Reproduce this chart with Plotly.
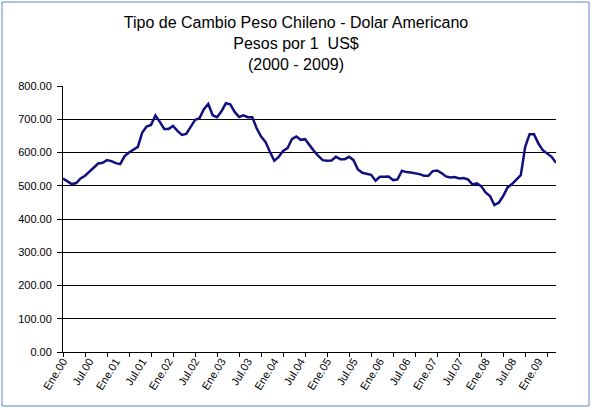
import plotly.graph_objects as go

# Monthly average exchange rate, Jan 2000 .. May 2009 (pesos per 1 US$)
months_es = ["Ene", "Feb", "Mar", "Abr", "May", "Jun", "Jul", "Ago", "Sep", "Oct", "Nov", "Dic"]
years = list(range(2000, 2010))

rate_2000 = [522, 514, 505, 508, 522, 530, 543, 553, 567, 569, 577, 574]
rate_2001 = [568, 565, 589, 600, 608, 617, 660, 678, 683, 711, 692, 671]
rate_2002 = [671, 680, 665, 653, 656, 678, 698, 703, 730, 746, 712, 706]
rate_2003 = [724, 748, 745, 722, 707, 712, 706, 706, 673, 648, 632, 602]
rate_2004 = [575, 587, 605, 613, 640, 648, 638, 640, 621, 605, 590, 577]
rate_2005 = [575, 576, 587, 580, 580, 587, 577, 549, 539, 535, 533, 515]
rate_2006 = [527, 527, 528, 517, 519, 545, 541, 540, 538, 535, 530, 530]
rate_2007 = [544, 546, 538, 528, 525, 526, 522, 523, 519, 504, 507, 499]
rate_2008 = [480, 469, 442, 449, 469, 495, 505, 518, 532, 617, 655, 655]
rate_2009 = [627, 607, 597, 587, 569]

rates = rate_2000 + rate_2001 + rate_2002 + rate_2003 + rate_2004 + rate_2005 + rate_2006 + rate_2007 + rate_2008 + rate_2009

labels = []
for y in years:
    for m in months_es:
        labels.append(f"{m}.{str(y)[2:]}")
labels = labels[:len(rates)]
idx = list(range(len(rates)))

# Axis labels every 6 months, tick marks every 5 categories
label_step = 6
tick_step = 5
label_vals = idx[::label_step]
label_text = [labels[i] for i in label_vals]

y_ticks = list(range(0, 801, 100))

font_family = "Liberation Sans, Arial, sans-serif"

fig = go.Figure()
fig.add_trace(go.Scatter(
    x=idx, y=rates, mode="lines",
    line=dict(color="#10107F", width=2.5),
    xaxis="x", yaxis="y", showlegend=False, hoverinfo="skip",
))
# invisible copy carrying the label axis
fig.add_trace(go.Scatter(
    x=idx, y=rates, mode="lines", opacity=0,
    line=dict(color="#10107F", width=0),
    xaxis="x2", yaxis="y", showlegend=False, hoverinfo="skip",
))

L, R, T, B = 63, 36, 86, 58
W, H = 592, 410
pw, ph = W - L - R, H - T - B

def px_to_paper_x(px):
    return (px - L) / pw

def py_to_paper_y(py):
    return (H - B - py) / ph

fig.update_layout(
    width=W, height=H,
    margin=dict(l=L, r=R, t=T, b=B, autoexpand=False),
    paper_bgcolor="white", plot_bgcolor="white",
    font=dict(family=font_family, color="black", size=11),
    title=dict(
        text="Tipo de Cambio Peso Chileno - Dolar Americano<br>Pesos por 1  US$<br>(2000 - 2009)",
        x=0.5, xref="container", xanchor="center",
        y=1 - 28 / H, yref="container", yanchor="top",
        font=dict(size=16, family=font_family, color="black"),
    ),
    xaxis=dict(
        range=[0, len(rates) - 1], tick0=0, dtick=tick_step, tickmode="linear",
        ticks="outside", ticklen=4, tickcolor="black", tickwidth=1,
        showticklabels=False, showgrid=False, zeroline=False,
        showline=True, linecolor="black", linewidth=1,
    ),
    xaxis2=dict(
        range=[0, len(rates) - 1], overlaying="x", side="bottom",
        tickmode="array", tickvals=label_vals, ticktext=label_text,
        ticks="", tickangle=-58, showgrid=False, zeroline=False, showline=False,
        tickfont=dict(size=11, family=font_family, color="black"),
    ),
    yaxis=dict(
        range=[0, 800], tickmode="array", tickvals=y_ticks,
        tickformat=".2f", ticks="outside", ticklen=5, tickcolor="black",
        ticklabelstandoff=3,
        showgrid=True, gridcolor="black", gridwidth=1,
        zeroline=False, showline=True, linecolor="black", linewidth=1,
        tickfont=dict(size=11, family=font_family, color="black"),
    ),
    shapes=[dict(
        type="rect", xref="paper", yref="paper",
        x0=px_to_paper_x(2), x1=px_to_paper_x(589),
        y0=py_to_paper_y(406), y1=py_to_paper_y(2),
        line=dict(color="#5E88C6", width=1), fillcolor="rgba(0,0,0,0)", layer="below",
    )],
)

fig.write_html("out.html", config={"displayModeBar": False},
               post_script="document.body.style.margin='0';")
